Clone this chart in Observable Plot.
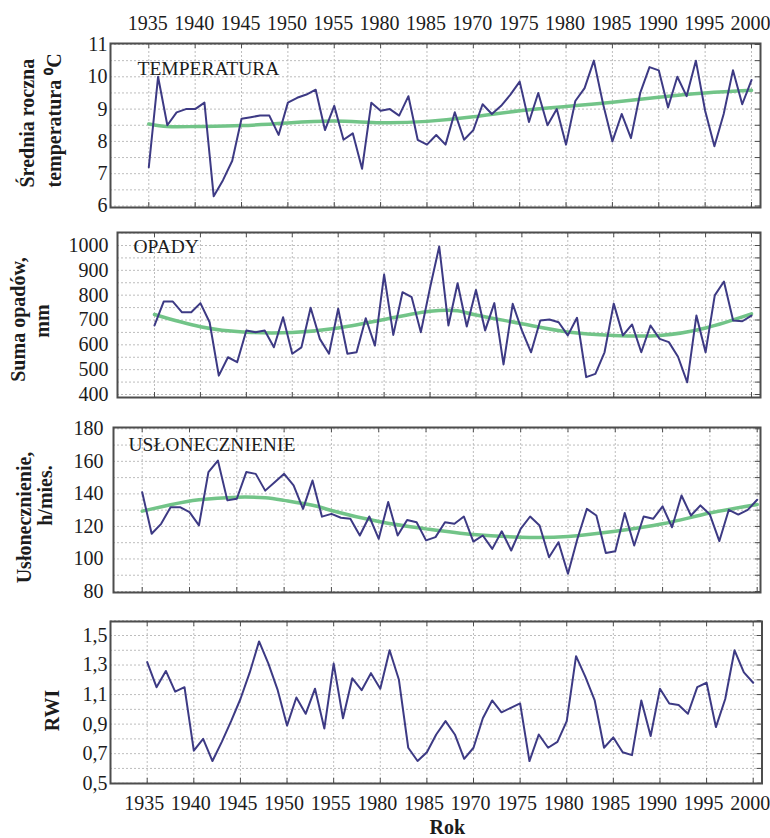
<!DOCTYPE html>
<html><head><meta charset="utf-8">
<script src="https://cdn.jsdelivr.net/npm/d3@7"></script>
<script src="https://cdn.jsdelivr.net/npm/@observablehq/plot@0.6"></script>
<style>
body{margin:0;background:#fff;}
#chart{position:relative;width:770px;height:838px;background:#fff;}
#chart svg{position:absolute;left:0;top:0;}
</style></head><body><div id="chart"></div>
<script>
// ---------- DATA ----------
const years = [1935,1936,1937,1938,1939,1940,1941,1942,1943,1944,1945,1946,1947,1948,1949,1950,1951,1952,1953,1954,
  1955,1956,1957,1958,1959,1960,1961,1962,1963,1964,1965,1966,1967,1968,1969,1970,1971,1972,1973,1974,
  1975,1976,1977,1978,1979,1980,1981,1982,1983,1984,1985,1986,1987,1988,1989,1990,1991,1992,1993,1994,
  1995,1996,1997,1998,1999,2000];

const xTickYears = [1935,1940,1945,1950,1955,1960,1965,1970,1975,1980,1985,1990,1995,2000];
const xTickLabels = ["1935","1940","1945","1950","1955","1980","1985","1970","1975","1980","1985","1990","1995","2000"];

const temperature = [7.2,10.0,8.5,8.9,9.0,9.0,9.2,6.3,6.8,7.4,8.7,8.75,8.8,8.8,8.2,9.2,9.35,9.45,9.6,8.35,
  9.1,8.05,8.25,7.15,9.2,8.95,9.0,8.8,9.4,8.05,7.9,8.2,7.9,8.9,8.05,8.35,9.15,8.85,9.1,9.45,
  9.85,8.6,9.5,8.5,9.0,7.9,9.25,9.65,10.5,9.15,8.0,8.85,8.1,9.5,10.3,10.2,9.05,10.0,9.4,10.5,
  8.95,7.85,8.85,10.2,9.15,9.9];
const tempTrendYears = [1935,1937,1940,1945,1950,1955,1960,1965,1970,1975,1980,1985,1990,1995,2000];
const tempTrend = [8.54,8.46,8.46,8.49,8.57,8.63,8.58,8.62,8.76,8.95,9.08,9.21,9.37,9.5,9.58];

const precipitation = [678,774,774,731,731,768,691,476,550,530,658,651,658,590,711,564,590,749,624,564,
  745,564,570,707,597,883,640,812,792,651,830,996,678,848,674,821,658,768,521,765,
  658,570,698,702,691,638,709,470,483,570,766,638,682,570,678,624,611,552,449,718,
  570,799,855,698,695,718];
const precTrendYears = [1935,1940,1945,1950,1955,1960,1965,1968,1970,1975,1980,1985,1990,1995,2000];
const precTrend = [722,673,651,650,668,702,735,737,720,685,652,638,638,668,725];

const sunshine = [141,115.5,121.6,131.8,131.8,128.8,120.6,153.4,160.5,136,137,153.4,152.3,142,147.2,152.3,145.2,130.8,148.2,126,
  127.7,125.3,124.7,114.4,126.1,112.4,135,114.4,124,122.6,111.4,113.4,122.6,121.6,126.1,110.7,114.4,106.2,117,105.2,
  118.5,126.1,120.6,101.1,110.3,90.9,112.4,130.8,126.7,103.6,104.8,128.2,108.3,126.1,124.7,132.3,119.5,139,126.7,132.9,
  127.3,111,130.2,127.3,130.2,136.4];
const sunTrendYears = [1935,1938,1941,1945,1948,1950,1953,1955,1960,1965,1970,1975,1980,1985,1990,1995,2000];
const sunTrend = [129.4,133.3,136.4,138,137.6,136,133,129.8,123,118.5,115,113.4,113.8,117,121.6,128.2,133.5];

const rwi = [1.32,1.15,1.26,1.12,1.15,0.72,0.80,0.65,0.78,0.92,1.07,1.25,1.46,1.31,1.13,0.89,1.08,0.97,1.14,0.87,
  1.31,0.94,1.21,1.13,1.245,1.14,1.40,1.20,0.74,0.65,0.71,0.83,0.92,0.83,0.665,0.74,0.94,1.06,0.98,1.01,
  1.04,0.65,0.83,0.74,0.78,0.92,1.36,1.22,1.06,0.74,0.81,0.71,0.69,1.06,0.82,1.14,1.04,1.03,0.97,1.15,
  1.18,0.88,1.07,1.40,1.25,1.18];

const tempTicks = [6,7,8,9,10,11];
const tempGrid = [6,6.5,7,7.5,8,8.5,9,9.5,10,10.5,11];
const precTicks = [400,500,600,700,800,900,1000];
const precGrid = [400,450,500,550,600,650,700,750,800,850,900,950,1000,1050];
const sunTicks = [80,100,120,140,160,180];
const sunGrid = [80,90,100,110,120,130,140,150,160,170,180];
const rwiTicks = [0.5,0.7,0.9,1.1,1.3,1.5];
const rwiGrid = [0.5,0.6,0.7,0.8,0.9,1.0,1.1,1.2,1.3,1.4,1.5,1.6];

// ---------- DRAWING ----------
const W = 770, H = 838;
const FONT = '"Liberation Serif","Times New Roman",serif';
const LINE = "#3d3a84", TREND = "#72c488", GRID = "#bdbdbd", FRAME = "#4d4d4d", INK = "#1c1c1c";
const rows = (xs, ys) => xs.map((year, i) => ({year, value: ys[i]}));
const xFmt = d => xTickLabels[xTickYears.indexOf(d)];

function panel(c) {
  const frameW = W - c.left - c.right, frameH = H - c.top - c.bottom;
  const marks = [
    Plot.gridX(xTickYears, {stroke: GRID, strokeOpacity: 1, strokeDasharray: "2,2"}),
    Plot.gridY(c.grid, {stroke: GRID, strokeOpacity: 1, strokeDasharray: "2,2"}),
    Plot.tickX(xTickYears, {x: d => d, insetBottom: frameH - 5, stroke: FRAME}),
    Plot.tickX(xTickYears, {x: d => d, insetTop: frameH - 5, stroke: FRAME}),
    Plot.tickY(c.grid, {y: d => d, insetLeft: frameW - 5, stroke: FRAME})
  ];
  if (c.trend) marks.push(Plot.line(c.trend, {x: "year", y: "value", stroke: TREND, strokeWidth: 3.5, curve: "natural"}));
  marks.push(Plot.line(c.series, {x: "year", y: "value", stroke: LINE, strokeWidth: 2, strokeLinejoin: "round"}));
  marks.push(Plot.frame({stroke: FRAME, strokeWidth: 2}));
  marks.push(Plot.axisY(c.ticks, {tickSize: 0, tickPadding: c.yPad, tickFormat: c.yFmt, label: null, fontSize: 20, fontFamily: FONT, fill: INK}));
  if (c.xAxis) marks.push(Plot.axisX(xTickYears, {anchor: c.xAxis, tickSize: 0, tickPadding: c.xPad, dx: c.xDx, tickFormat: xFmt, label: null, fontSize: 20, fontFamily: FONT, fill: INK}));
  if (c.tag) marks.push(Plot.text([c.tag], {text: d => d, frameAnchor: "top-left", dx: c.tagDx, dy: c.tagDy, textAnchor: "start", lineAnchor: "middle", fontSize: 19.5, fontFamily: FONT, fill: INK}));
  for (const l of c.labels) {
    marks.push(Plot.text([l.t], {text: d => d, frameAnchor: "left", rotate: -90, dx: l.dx, dy: l.dy, textAnchor: l.anchor || "middle", lineAnchor: "middle", fontSize: 20, fontWeight: "bold", fontFamily: FONT, fill: INK}));
  }
  if (c.extra) marks.push(...c.extra);
  return Plot.plot({
    width: W, height: H,
    marginTop: c.top, marginBottom: c.bottom, marginLeft: c.left, marginRight: c.right,
    x: {domain: [1935, 2000], range: c.xRange, axis: c.xAxis ? undefined : null},
    y: {domain: c.yDomain, range: c.yRange},
    style: {background: "transparent", fontFamily: FONT, fontSize: "20px", color: INK, overflow: "visible"},
    marks
  });
}

const chart = document.getElementById("chart");

chart.append(panel({
  top: 43, bottom: H - 207, left: 110, right: 10,
  xRange: [148.3, 751], yDomain: [6, 11], yRange: [205.5, 44],
  ticks: tempTicks, grid: tempGrid, yPad: 3, yFmt: d => String(d),
  series: rows(years, temperature), trend: rows(tempTrendYears, tempTrend),
  xAxis: "top", xPad: 13.5, xDx: -1,
  tag: "TEMPERATURA", tagDx: 27, tagDy: 25,
  labels: [{t: "Średnia roczna", dx: -82.5, dy: 62, anchor: "start"}, {t: "temperatura ⁰C", dx: -55.5, dy: 62, anchor: "start"}]
}));

chart.append(panel({
  top: 232, bottom: H - 397, left: 117, right: 10,
  xRange: [154, 751], yDomain: [400, 1000], yRange: [394, 245],
  ticks: precTicks, grid: precGrid, yPad: 9, yFmt: d => String(d),
  series: rows(years, precipitation), trend: rows(precTrendYears, precTrend),
  tag: "OPADY", tagDx: 16, tagDy: 14,
  labels: [{t: "Suma opadów,", dx: -99, dy: 4.5}, {t: "mm", dx: -75, dy: 6}]
}));

chart.append(panel({
  top: 427, bottom: H - 592, left: 113, right: 10,
  xRange: [141.7, 756.7], yDomain: [80, 180], yRange: [591, 428.3],
  ticks: sunTicks, grid: sunGrid, yPad: 10, yFmt: d => String(d),
  series: rows(years, sunshine), trend: rows(sunTrendYears, sunTrend),
  tag: "USŁONECZNIENIE", tagDx: 15, tagDy: 17,
  labels: [{t: "Usłonecznienie,", dx: -89, dy: 7.5}, {t: "h/mies.", dx: -67.5, dy: -14.5}]
}));

chart.append(panel({
  top: 621, bottom: H - 783, left: 110, right: 8.5,
  xRange: [146.7, 752.7], yDomain: [0.5, 1.5], yRange: [782.7, 635],
  ticks: rwiTicks, grid: rwiGrid, yPad: 3, yFmt: d => d.toFixed(1).replace(".", ","),
  series: rows(years, rwi), trend: null,
  xAxis: "bottom", xPad: 12.5, xDx: -3,
  labels: [{t: "RWI", dx: -58, dy: 8}],
  extra: [Plot.text(["Rok"], {text: d => d, frameAnchor: "bottom", dx: 11, dy: 44, lineAnchor: "middle", fontSize: 20, fontWeight: "bold", fontFamily: FONT, fill: INK})]
}));
</script></body></html>
